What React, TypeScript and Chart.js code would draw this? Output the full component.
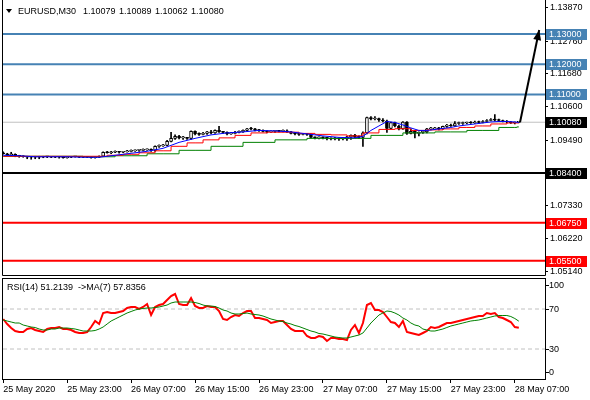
import React, { useEffect, useRef } from "react";
import { Chart, registerables } from "chart.js";

Chart.register(...registerables);

const FONT = "'Liberation Sans', Arial, sans-serif";

// ---------- DATA ----------
const opens = [
  1.09069, 1.09036, 1.09003, 1.0902, 1.08971, 1.08954, 1.08938, 1.08921, 1.08921, 1.08938,
  1.08921, 1.08938, 1.08938, 1.08921, 1.08938, 1.08921, 1.08905, 1.08921, 1.08938, 1.08938,
  1.08921, 1.08938, 1.08921, 1.08905, 1.08921, 1.08954, 1.09086, 1.09069, 1.09086, 1.09102,
  1.09086, 1.09102, 1.09118, 1.09135, 1.09151, 1.09151, 1.09168, 1.09184, 1.09151, 1.09283,
  1.09299, 1.09316, 1.09447, 1.09546, 1.09612, 1.09563, 1.09563, 1.09546, 1.09776, 1.09694,
  1.09678, 1.09711, 1.0976, 1.09727, 1.09809, 1.0976, 1.09743, 1.09694, 1.09711, 1.09743,
  1.0976, 1.09809, 1.09859, 1.09859, 1.09809, 1.09809, 1.09776, 1.0976, 1.09776, 1.09793,
  1.09776, 1.09793, 1.0976, 1.09711, 1.09694, 1.09678, 1.09694, 1.09678, 1.09579, 1.09563,
  1.09579, 1.09563, 1.09546, 1.0953, 1.09546, 1.0953, 1.0953, 1.09596, 1.09645, 1.09596,
  1.09579, 1.09727, 1.10237, 1.10188, 1.10204, 1.10155, 1.10122, 1.09875, 1.10072, 1.09957,
  1.09859, 1.10089, 1.09711, 1.09776, 1.09711, 1.09743, 1.0976, 1.09859, 1.09859, 1.09892,
  1.09859, 1.09941, 1.0999, 1.09957, 1.10039, 1.10039, 1.10056, 1.10072, 1.10056, 1.10089,
  1.10072, 1.10105, 1.10138, 1.10155, 1.10155, 1.10138, 1.10105, 1.10089, 1.10056, 1.10079,
];
const highs = [
  1.09102, 1.09053, 1.09086, 1.09036, 1.08987, 1.08971, 1.08954, 1.08938, 1.08954, 1.08954,
  1.08954, 1.08954, 1.08954, 1.08954, 1.08954, 1.08938, 1.08938, 1.08954, 1.08954, 1.08954,
  1.08954, 1.08954, 1.08938, 1.08938, 1.08971, 1.09102, 1.09118, 1.09118, 1.09135, 1.09118,
  1.09118, 1.09151, 1.09168, 1.09168, 1.09184, 1.09201, 1.09201, 1.09201, 1.09299, 1.09332,
  1.09349, 1.0948, 1.09743, 1.09661, 1.09645, 1.09612, 1.09579, 1.09793, 1.09793, 1.09727,
  1.09743, 1.09776, 1.09809, 1.09826, 1.09941, 1.09776, 1.0976, 1.09743, 1.09776, 1.09793,
  1.09826, 1.09875, 1.09908, 1.09875, 1.09842, 1.09826, 1.09793, 1.09793, 1.09809, 1.09809,
  1.09826, 1.09826, 1.09776, 1.09743, 1.09711, 1.09711, 1.09711, 1.09694, 1.09596, 1.09596,
  1.09596, 1.09579, 1.09563, 1.09579, 1.09563, 1.09563, 1.09612, 1.09661, 1.09678, 1.09628,
  1.0976, 1.10254, 1.1027, 1.1027, 1.10221, 1.10204, 1.10155, 1.10089, 1.10089, 1.0999,
  1.10105, 1.10105, 1.09859, 1.09809, 1.0976, 1.09793, 1.09875, 1.09908, 1.09908, 1.09908,
  1.09957, 1.10007, 1.10023, 1.10105, 1.10089, 1.10089, 1.10089, 1.10105, 1.10122, 1.10122,
  1.10138, 1.10171, 1.10204, 1.10335, 1.10188, 1.10155, 1.10138, 1.10105, 1.10089, 1.10089,
];
const lows = [
  1.0902, 1.08987, 1.08971, 1.08938, 1.08921, 1.08921, 1.08872, 1.08855, 1.08872, 1.08872,
  1.08905, 1.08905, 1.08905, 1.08905, 1.08888, 1.08888, 1.08888, 1.08905, 1.08921, 1.08905,
  1.08905, 1.08905, 1.08888, 1.08888, 1.08905, 1.08938, 1.09053, 1.09036, 1.09069, 1.09053,
  1.09069, 1.09086, 1.09102, 1.09118, 1.09118, 1.09135, 1.09151, 1.09118, 1.09118, 1.0925,
  1.09283, 1.09299, 1.09431, 1.09513, 1.0953, 1.09513, 1.09513, 1.09513, 1.09661, 1.09645,
  1.09661, 1.09678, 1.09694, 1.09711, 1.09743, 1.09711, 1.09661, 1.09678, 1.09694, 1.09727,
  1.09743, 1.09793, 1.09826, 1.09793, 1.09776, 1.0976, 1.09727, 1.09743, 1.09743, 1.0976,
  1.0976, 1.09743, 1.09694, 1.09661, 1.09645, 1.09661, 1.09645, 1.09563, 1.0953, 1.0953,
  1.0953, 1.09497, 1.09497, 1.09497, 1.0948, 1.09497, 1.0948, 1.09513, 1.09563, 1.09546,
  1.09283, 1.09694, 1.10155, 1.10155, 1.10105, 1.10089, 1.09743, 1.09859, 1.09925, 1.09826,
  1.09842, 1.09678, 1.09694, 1.09563, 1.09628, 1.09711, 1.09727, 1.09826, 1.09842, 1.09826,
  1.09842, 1.09908, 1.09941, 1.09941, 1.10007, 1.10007, 1.10023, 1.10039, 1.10039, 1.10039,
  1.10056, 1.10089, 1.10122, 1.10122, 1.10105, 1.10089, 1.10056, 1.10039, 1.10023, 1.10062,
];
const closes = [
  1.09036, 1.09003, 1.0902, 1.08971, 1.08954, 1.08938, 1.08921, 1.08924, 1.08938, 1.08921,
  1.08938, 1.08935, 1.08921, 1.08938, 1.08921, 1.08905, 1.08921, 1.08938, 1.08941, 1.08921,
  1.08938, 1.08921, 1.08905, 1.08921, 1.08954, 1.09086, 1.09069, 1.09086, 1.09102, 1.09086,
  1.09102, 1.09118, 1.09135, 1.09151, 1.09154, 1.09168, 1.09184, 1.09151, 1.09283, 1.09299,
  1.09316, 1.09447, 1.09546, 1.09612, 1.09563, 1.09566, 1.09546, 1.09776, 1.09694, 1.09678,
  1.09711, 1.0976, 1.09727, 1.09809, 1.0976, 1.09743, 1.09694, 1.09711, 1.09743, 1.0976,
  1.09809, 1.09859, 1.09856, 1.09809, 1.09806, 1.09776, 1.0976, 1.09776, 1.09793, 1.09776,
  1.09793, 1.0976, 1.09711, 1.09694, 1.09678, 1.09694, 1.09678, 1.09579, 1.09563, 1.09579,
  1.09563, 1.09546, 1.0953, 1.09546, 1.0953, 1.09533, 1.09596, 1.09645, 1.09596, 1.09579,
  1.09727, 1.10237, 1.10188, 1.10204, 1.10155, 1.10122, 1.09875, 1.10072, 1.09957, 1.09859,
  1.10089, 1.09711, 1.09776, 1.09711, 1.09743, 1.0976, 1.09859, 1.09862, 1.09892, 1.09859,
  1.09941, 1.0999, 1.09957, 1.10039, 1.10042, 1.10056, 1.10072, 1.10056, 1.10089, 1.10072,
  1.10105, 1.10138, 1.10155, 1.10152, 1.10138, 1.10105, 1.10089, 1.10056, 1.10079, 1.1008,
];

const blueIdx = [0, 4, 8, 12, 16, 20, 24, 28, 32, 36, 40, 44, 48, 52, 56, 60, 64, 68, 72, 76, 80, 84, 88, 90, 92, 94, 96, 98, 100, 102, 104, 106, 108, 110, 112, 114, 116, 118, 120, 122, 124, 126, 128, 129];
const blueMA = [
  1.08987, 1.08971, 1.08938, 1.08938, 1.08938, 1.08921, 1.08921, 1.08987, 1.09053, 1.09118,
  1.09217, 1.09414, 1.09546, 1.09661, 1.09727, 1.0976, 1.09809, 1.09793, 1.0976, 1.09694,
  1.09628, 1.09579, 1.09563, 1.09612, 1.09809, 1.09957, 1.10105, 1.10072, 1.0999, 1.09892,
  1.09809, 1.09809, 1.09842, 1.09875, 1.09908, 1.09957, 1.0999, 1.10023, 1.10056, 1.10089,
  1.10105, 1.10105, 1.10089, 1.10072,
];
const redIdx = [0, 4, 8, 12, 16, 20, 24, 28, 32, 36, 40, 44, 48, 52, 56, 60, 64, 68, 72, 76, 80, 84, 88, 92, 96, 100, 104, 108, 112, 116, 120, 124, 128, 129];
const redMA = [
  1.08954, 1.08954, 1.08954, 1.08954, 1.08954, 1.08954, 1.08954, 1.08987, 1.0902, 1.09069,
  1.09135, 1.09283, 1.09397, 1.09497, 1.09563, 1.09645, 1.09727, 1.0975, 1.0975, 1.09711,
  1.09678, 1.09661, 1.09628, 1.09727, 1.09842, 1.09865, 1.09809, 1.09826, 1.09859, 1.09908,
  1.09957, 1.10023, 1.10056, 1.10056,
];
const greenIdx = [0, 8, 16, 24, 32, 40, 48, 56, 64, 72, 80, 88, 96, 104, 112, 120, 128, 129];
const greenMA = [
  1.08954, 1.08954, 1.08954, 1.08938, 1.08971, 1.09036, 1.09151, 1.09283, 1.09414, 1.09497,
  1.09546, 1.09546, 1.09645, 1.09727, 1.0976, 1.09809, 1.09908, 1.09925,
];

const rsiValues = [
  60, 55, 51, 48, 47, 47, 50, 51, 49, 48,
  47, 50, 51, 51, 52, 50, 50, 49, 47, 46,
  46, 47, 52, 58, 55, 66, 67, 66, 66, 67,
  68, 71, 72, 72, 70, 72, 75, 64, 72, 74,
  75, 79, 83, 85, 75, 74, 74, 81, 73, 71,
  71, 73, 72, 72, 68, 60, 59, 62, 64, 63,
  66, 68, 68, 61, 61, 60, 59, 56, 57, 58,
  58, 54, 50, 48, 48, 48, 43, 41, 41, 43,
  42, 38, 41, 41, 40, 40, 39, 49, 54, 46,
  56, 74, 76, 69, 69, 67, 62, 57, 56, 52,
  58, 47, 46, 45, 44, 46, 48, 52, 51, 52,
  54, 56, 56, 57, 58, 59, 60, 61, 62, 63,
  63, 66, 65, 66, 62, 61, 59, 57, 52, 51.2139,
];
const rsiMA = [
  59, 58, 57, 56, 56, 54, 53, 52, 51.5, 50,
  49, 49, 50, 50, 51, 51, 51, 50.5, 50, 49,
  48, 48, 48, 48.5, 50, 52, 55, 58, 60, 62,
  64, 66, 67.5, 69, 70, 70.5, 71, 71, 71.5, 72,
  73, 74, 76, 77, 77, 77, 77, 77, 76.5, 75.5,
  74, 73, 73, 72.5, 71, 69, 68, 66, 65, 65,
  65.5, 66, 65, 64.5, 64, 63, 61.5, 60, 59, 58,
  57.5, 56, 55, 53.5, 52.5, 51, 49.5, 48, 47, 45.5,
  45, 44, 43, 42, 41.5, 41, 41, 42, 43, 44,
  46, 51, 56, 60, 64, 66, 68, 67.5, 66, 64,
  61, 59, 56, 54, 53, 50, 49, 48, 48, 49,
  50, 51.5, 53, 54, 55, 56, 57, 58, 58.5, 59,
  60, 61, 62, 63, 63.5, 63.5, 63.5, 62.5, 60.5, 57.8356,
];

const timeLabels = ["25 May 2020", "25 May 23:00", "26 May 07:00", "26 May 15:00", "26 May 23:00", "27 May 07:00", "27 May 15:00", "27 May 23:00", "28 May 07:00"];
const timeTickIdx = [0, 16, 32, 48, 64, 80, 96, 112, 128];
const priceTicks = [1.1387, 1.1276, 1.1168, 1.106, 1.0949, 1.0841, 1.0733, 1.0622, 1.0514];
const levelValues = [1.13, 1.12, 1.11, 1.1008, 1.084, 1.0675, 1.055];
const rsiLevelValues = [70, 30];
const rsiAxisValues = [100, 70, 30, 0];
const arrowFrom = { x: 129.3, y: 1.1008 };
const arrowTo = { x: 134.1, y: 1.1313 };
const titleText = "EURUSD,M30  1.10079 1.10089 1.10062 1.10080";
const rsiText = "RSI(14) 51.2139  ->MA(7) 57.8356";

// ---------- STYLE ----------
const X_MIN = -0.05;
const X_MAX = 135.55;
const P_MIN = 1.05025;
const P_MAX = 1.14092;
const levelStyles = [
  { line: "#4682B4", bg: "#4682B4", fg: "#fff", w: 2 },
  { line: "#4682B4", bg: "#4682B4", fg: "#fff", w: 2 },
  { line: "#4682B4", bg: "#4682B4", fg: "#fff", w: 2 },
  { line: "#C0C0C0", bg: "#000", fg: "#fff", w: 1 },
  { line: "#000", bg: "#000", fg: "#fff", w: 2 },
  { line: "#FF0000", bg: "#FF0000", fg: "#fff", w: 2 },
  { line: "#FF0000", bg: "#FF0000", fg: "#fff", w: 2 },
];

const pts = (xs: number[], ys: number[]) => xs.map((x, i) => ({ x, y: ys[i] }));
const noPad = (s: any) => { s.paddingTop = 0; s.paddingBottom = 0; s.paddingLeft = 0; s.paddingRight = 0; };

function MainChart() {
  const ref = useRef<HTMLCanvasElement>(null);
  useEffect(() => {
    const wicks = lows.map((l, i) => ({ x: i, y: [l, highs[i]] }));
    const bodies = opens.map((o, i) => ({ x: i, y: [o, closes[i]] }));
    const levelSets = levelValues.map((v, k) => ({
      type: "line",
      data: [{ x: X_MIN, y: v }, { x: X_MAX, y: v }],
      borderColor: levelStyles[k].line,
      borderWidth: levelStyles[k].w,
      pointRadius: 0,
      order: 20,
    }));
    const frame = {
      id: "frame",
      afterDraw(chart: any) {
        const { ctx, chartArea: a } = chart;
        ctx.save();
        ctx.strokeStyle = "#000";
        ctx.lineWidth = 1;
        ctx.beginPath();
        ctx.moveTo(a.left - 0.5, 0);
        ctx.lineTo(a.left - 0.5, a.bottom + 0.5);
        ctx.lineTo(a.right + 0.5, a.bottom + 0.5);
        ctx.lineTo(a.right + 0.5, 0);
        ctx.stroke();
        // arrow head
        const meta = chart.getDatasetMeta(chart.data.datasets.length - 1);
        const p0 = meta.data[0];
        const p1 = meta.data[1];
        const ang = Math.atan2(p1.y - p0.y, p1.x - p0.x);
        const L = 10, W = 4;
        ctx.fillStyle = "#000";
        ctx.beginPath();
        ctx.moveTo(p1.x, p1.y);
        ctx.lineTo(p1.x - L * Math.cos(ang) + W * Math.sin(ang), p1.y - L * Math.sin(ang) - W * Math.cos(ang));
        ctx.lineTo(p1.x - L * Math.cos(ang) - W * Math.sin(ang), p1.y - L * Math.sin(ang) + W * Math.cos(ang));
        ctx.closePath();
        ctx.fill();
        // level labels
        const ys = chart.scales.y;
        ctx.font = `9px ${FONT}`;
        ctx.textBaseline = "middle";
        ctx.textAlign = "left";
        levelValues.forEach((v, k) => {
          const y = Math.round(ys.getPixelForValue(v));
          ctx.fillStyle = levelStyles[k].bg;
          ctx.fillRect(a.right + 1, y - 5, 41, 11);
          ctx.fillStyle = levelStyles[k].fg;
          ctx.fillText(v.toFixed(5), a.right + 4, y + 0.5);
        });
        ctx.restore();
      },
    };
    const chart = new Chart(ref.current as HTMLCanvasElement, {
      type: "bar",
      data: {
        datasets: [
          ...levelSets,
          {
            type: "bar",
            data: wicks,
            backgroundColor: "#000",
            borderWidth: 0,
            barThickness: 1,
            grouped: false,
            order: 11,
          },
          {
            type: "bar",
            data: bodies,
            backgroundColor: (c: any) =>
              c.dataIndex !== undefined && closes[c.dataIndex] > opens[c.dataIndex] ? "#fff" : "#000",
            borderColor: "#000",
            borderWidth: 1,
            borderSkipped: false,
            barThickness: 3,
            minBarLength: 1,
            grouped: false,
            order: 10,
          },
          { type: "line", data: pts(greenIdx, greenMA), borderColor: "#008000", borderWidth: 1, stepped: "middle", pointRadius: 0, order: 3 },
          { type: "line", data: pts(redIdx, redMA), borderColor: "#FF0000", borderWidth: 1, stepped: "middle", pointRadius: 0, order: 2 },
          { type: "line", data: pts(blueIdx, blueMA), borderColor: "#0000FF", borderWidth: 1, pointRadius: 0, order: 1 },
          { type: "line", data: [arrowFrom, arrowTo], borderColor: "#000", borderWidth: 2, pointRadius: 0, order: 0, clip: false },
        ] as any,
      },
      options: {
        responsive: false,
        animation: false,
        devicePixelRatio: 1,
        events: [],
        layout: { autoPadding: false, padding: { left: 3, top: 1, right: 0, bottom: 1 } },
        plugins: { legend: { display: false }, tooltip: { enabled: false }, title: { display: false } },
        scales: {
          x: { type: "linear", min: X_MIN, max: X_MAX, display: false, offset: false },
          y: {
            type: "linear",
            position: "right",
            min: P_MIN,
            max: P_MAX,
            afterFit: (s: any) => { s.width = 45; noPad(s); },
            afterBuildTicks: (s: any) => { s.ticks = priceTicks.map((v) => ({ value: v })); },
            ticks: { autoSkip: false, padding: 2, color: "#000", font: { family: FONT, size: 9 }, callback: (v: any) => Number(v).toFixed(5) },
            grid: { drawOnChartArea: false, drawTicks: true, tickLength: 3, color: "#000" },
            border: { display: false },
          },
        },
      } as any,
      plugins: [frame],
    });
    return () => chart.destroy();
  }, []);
  return <canvas ref={ref} width={590} height={276} style={{ position: "absolute", left: 0, top: 0, width: 590, height: 276 }} />;
}

function RsiChart() {
  const ref = useRef<HTMLCanvasElement>(null);
  useEffect(() => {
    const frame = {
      id: "rsiframe",
      afterDraw(chart: any) {
        const { ctx, chartArea: a } = chart;
        ctx.save();
        ctx.strokeStyle = "#000";
        ctx.lineWidth = 1;
        ctx.strokeRect(a.left - 0.5, a.top - 0.5, a.right - a.left + 1, a.bottom - a.top + 1);
        const ys = chart.scales.y;
        ctx.font = `9px ${FONT}`;
        ctx.fillStyle = "#000";
        ctx.textAlign = "left";
        ctx.textBaseline = "middle";
        rsiAxisValues.forEach((v) => {
          let y = Math.round(ys.getPixelForValue(v));
          if (v === 100) y += 6;
          if (v === 0) y -= 7;
          ctx.beginPath();
          ctx.moveTo(a.right + 1, y + 0.5);
          ctx.lineTo(a.right + 4, y + 0.5);
          ctx.stroke();
          ctx.fillText(String(v), a.right + 4, y + 0.5);
        });
        ctx.restore();
      },
    };
    const levelSets = rsiLevelValues.map((v) => ({
      data: [{ x: X_MIN, y: v }, { x: X_MAX, y: v }],
      borderColor: "#C0C0C0",
      borderDash: [4, 3],
      borderWidth: 1,
      pointRadius: 0,
      order: 10,
    }));
    const chart = new Chart(ref.current as HTMLCanvasElement, {
      type: "line",
      data: {
        datasets: [
          ...levelSets,
          { data: rsiValues.map((v, i) => ({ x: i, y: v })), borderColor: "#FF0000", borderWidth: 2, pointRadius: 0, order: 1 },
          { data: rsiMA.map((v, i) => ({ x: i, y: v })), borderColor: "#008000", borderWidth: 1, pointRadius: 0, order: 0 },
        ] as any,
      },
      options: {
        responsive: false,
        animation: false,
        devicePixelRatio: 1,
        events: [],
        layout: { autoPadding: false, padding: { left: 3, top: 3, right: 0, bottom: 0 } },
        plugins: { legend: { display: false }, tooltip: { enabled: false } },
        scales: {
          x: {
            type: "linear",
            min: X_MIN,
            max: X_MAX,
            offset: false,
            afterFit: (s: any) => { s.height = 21; noPad(s); },
            afterBuildTicks: (s: any) => { s.ticks = timeTickIdx.map((v) => ({ value: v })); },
            ticks: {
              autoSkip: false,
              maxRotation: 0,
              minRotation: 0,
              align: "start",
              padding: 1,
              color: "#000",
              font: { family: FONT, size: 9 },
              callback: (v: any) => timeLabels[timeTickIdx.indexOf(Number(v))],
            },
            grid: { drawOnChartArea: false, drawTicks: true, tickLength: 4, color: "#000" },
            border: { display: false },
          },
          y: {
            type: "linear",
            position: "right",
            min: 0,
            max: 100,
            afterFit: (s: any) => { s.width = 45; noPad(s); },
            ticks: { display: false },
            grid: { display: false },
            border: { display: false },
          },
        },
      } as any,
      plugins: [frame],
    });
    return () => chart.destroy();
  }, []);
  return <canvas ref={ref} width={590} height={124} style={{ position: "absolute", left: 0, top: 276, width: 590, height: 124 }} />;
}

export default function App() {
  return (
    <div style={{ position: "absolute", left: 0, top: 0, width: 590, height: 400, background: "#fff", overflow: "hidden" }}>
      <MainChart />
      <RsiChart />
      <div style={{ position: "absolute", left: 6, top: 9, width: 0, height: 0, borderLeft: "3px solid transparent", borderRight: "3px solid transparent", borderTop: "4px solid #000" }} />
      <div style={{ position: "absolute", left: 18, top: 6, font: `9px ${FONT}`, lineHeight: "11px", color: "#000", whiteSpace: "pre", wordSpacing: "1px" }}>{titleText}</div>
      <div style={{ position: "absolute", left: 7, top: 282, font: `9px ${FONT}`, lineHeight: "11px", color: "#000", whiteSpace: "pre" }}>{rsiText}</div>
    </div>
  );
}
